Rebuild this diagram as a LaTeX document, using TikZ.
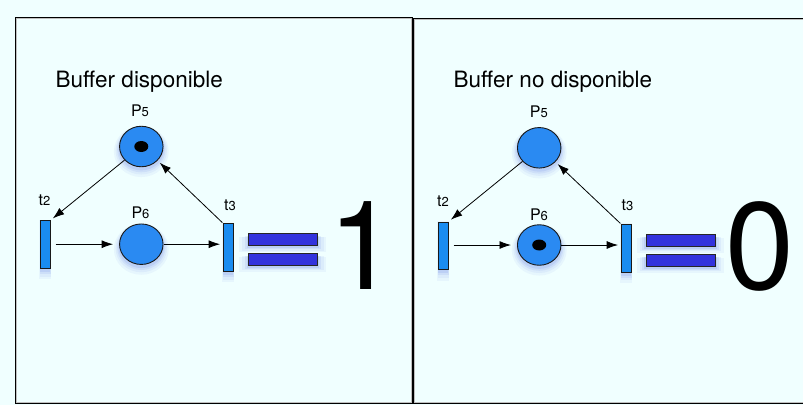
\documentclass[tikz,border=0pt]{standalone}
\usepackage{fontspec}
\setmainfont{TeX Gyre Heros}
\usetikzlibrary{shapes.geometric,shadows,arrows.meta}
\definecolor{bgc}{HTML}{F0FFFF}
\definecolor{placec}{HTML}{2A8AF2}
\definecolor{transc}{HTML}{1A8CF0}
\definecolor{barc}{HTML}{3333DD}
\definecolor{glowc}{HTML}{3050E0}
\begin{document}
\begin{tikzpicture}[x=1pt,y=-1pt,
  glow/.style={drop shadow={shadow xshift=0pt,shadow yshift=-4pt,fill=glowc,opacity=.05,shadow scale=1.26},
               drop shadow={shadow xshift=0pt,shadow yshift=-3.5pt,fill=glowc,opacity=.06,shadow scale=1.18},
               drop shadow={shadow xshift=0pt,shadow yshift=-3pt,fill=glowc,opacity=.08,shadow scale=1.11},
               drop shadow={shadow xshift=0pt,shadow yshift=-2.5pt,fill=glowc,opacity=.10,shadow scale=1.05}},
  place/.style={ellipse,draw=black!90,line width=0.9pt,fill=placec,minimum width=43.5pt,minimum height=40.5pt,inner sep=0pt,glow},
  trans/.style={rectangle,draw=black!90,line width=0.9pt,fill=transc,minimum width=9.5pt,minimum height=47.5pt,inner sep=0pt,glow},
  eqbar/.style={rectangle,draw=black!85,line width=0.9pt,fill=barc,minimum width=69pt,minimum height=12pt,inner sep=0pt,glow},
  token/.style={ellipse,fill=black,minimum width=14pt,minimum height=11pt,inner sep=0pt},
  lbl/.style={inner sep=0pt,font=\fontsize{16}{16}\selectfont},
  title/.style={inner sep=0pt,font=\fontsize{22.5}{26}\selectfont,anchor=base west},
  big/.style={inner sep=0pt,font=\fontsize{124}{124}\selectfont,anchor=base},
  arr/.style={draw=black,line width=0.8pt,-{Latex[length=11.5pt,width=8pt]}},
  panel/.style={draw=black,line width=1pt},
  panelsh/.style={draw=black!25,line width=0.7pt}
]
\useasboundingbox (0,0) rectangle (803,405);
\fill[bgc] (0,0) rectangle (803,405);

% panels
\draw[panelsh] (16.3,18.3) rectangle (411,402);
\draw[panel] (15,17) rectangle (412,403);
\draw[panelsh] (806,19.3) -- (414.6,19.3) -- (414.6,402.2) -- (806,402.2);
\draw[panel] (806,18) -- (413.5,18) -- (413.5,403.5) -- (806,403.5);

% ---------- left panel ----------
\node[title] (tl) at (55.5,87) {Buffer disponible};
\node[place] (p5) at (141.3,146.5) {};
\node[token] (k5) at (p5) {};
\node[place] (p6) at (141.3,244.2) {};
\node[trans] (t2) at (45.3,244.5) {};
\node[trans] (t3) at (228.3,247.5) {};
\node[lbl,anchor=base] (lp5) at (140,116.5) {P{\fontsize{13}{13}\selectfont 5}};
\node[lbl,anchor=base] (lp6) at (140.5,218.3) {P{\fontsize{13}{13}\selectfont 6}};
\node[lbl,anchor=base] (lt2) at (44.5,205) {t{\fontsize{13}{13}\selectfont 2}};
\node[lbl,anchor=base] (lt3) at (230,210.7) {t{\fontsize{13}{13}\selectfont 3}};
\node[eqbar] (ea1) at (282.8,239.5) {};
\node[eqbar] (ea2) at (282.8,259.2) {};
\node[big] (one) at (362.5,289.3) {1};

\draw[arr,shorten >=3pt] (p5) -- (t2.north east);
\draw[arr,shorten <=1pt,shorten >=3pt] (t3.north west) -- (p5.-41);
\draw[arr,shorten <=5pt,shorten >=6pt] (t2.east |- p6.west) -- (p6.west);
\draw[arr,shorten >=3pt] (p6.east) -- (p6.east -| t3.west);

% ---------- right panel ----------
\node[title] (tr) at (453.5,87) {Buffer no disponible};
\node[place] (q5) at (539.2,147.8) {};
\node[place] (q6) at (539.2,245) {};
\node[token] (kq6) at (q6) {};
\node[trans] (u2) at (443.3,245.8) {};
\node[trans] (u3) at (626.3,248.3) {};
\node[lbl,anchor=base] (lq5) at (538.8,117.3) {P{\fontsize{13}{13}\selectfont 5}};
\node[lbl,anchor=base] (lq6) at (539,220) {P{\fontsize{13}{13}\selectfont 6}};
\node[lbl,anchor=base] (lu2) at (443,206.7) {t{\fontsize{13}{13}\selectfont 2}};
\node[lbl,anchor=base] (lu3) at (627.5,210.7) {t{\fontsize{13}{13}\selectfont 3}};
\node[eqbar] (eb1) at (680.5,240.2) {};
\node[eqbar] (eb2) at (680.5,260.2) {};
\node[big] (zero) at (760,289.3) {0};

\draw[arr,shorten >=3pt] (q5) -- (u2.north east);
\draw[arr,shorten <=1pt,shorten >=3pt] (u3.north west) -- (q5.-41);
\draw[arr,shorten <=5pt,shorten >=6pt] (u2.east |- q6.west) -- (q6.west);
\draw[arr,shorten >=3pt] (q6.east) -- (q6.east -| u3.west);
\end{tikzpicture}
\end{document}
